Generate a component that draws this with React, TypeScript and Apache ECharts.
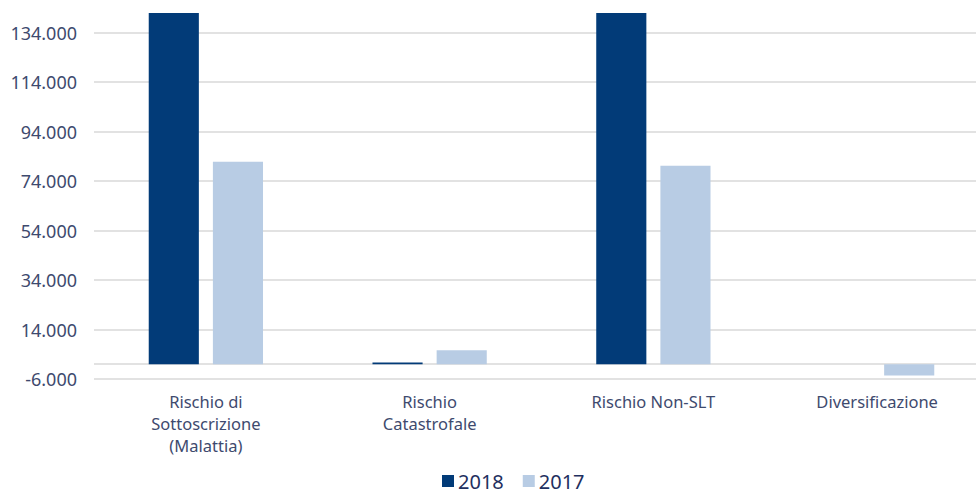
import React, { useEffect, useRef } from "react";
import * as echarts from "echarts";

const categories = [
  "Rischio di\nSottoscrizione\n(Malattia)",
  "Rischio\nCatastrofale",
  "Rischio Non-SLT",
  "Diversificazione",
];
const series2018 = [142000, 700, 142000, 0];
const series2017 = [81800, 5600, 80200, -4600];
const yMin = -6000;
const yMax = 142000;
const yInterval = 20000;

function fmt(v: number): string {
  const neg = v < 0;
  const s = Math.abs(Math.round(v)).toString().replace(/\B(?=(\d{3})+(?!\d))/g, ".");
  return (neg ? "-" : "") + s;
}

export default function App() {
  const ref = useRef<HTMLDivElement>(null);
  useEffect(() => {
    document.body.style.margin = "0";
    if (!ref.current) return;
    const chart = echarts.init(ref.current, null, { renderer: "svg" });
    const font = "Noto Sans";
    chart.setOption({
      animation: false,
      backgroundColor: "#ffffff",
      grid: { left: 94, right: 0, top: 13, height: 366, containLabel: false },
      legend: {
        top: 466,
        left: 437,
        itemWidth: 12,
        itemHeight: 12,
        itemGap: 19,
        icon: "rect",
        textStyle: { fontFamily: font, fontSize: 20, color: "#1f3060", padding: [0, 0, 0, -1] },
        data: ["2018", "2017"],
      },
      xAxis: {
        type: "category",
        data: categories,
        axisLine: { show: false, onZero: false },
        axisTick: { show: false },
        axisLabel: {
          interval: 0,
          margin: 11,
          fontFamily: font,
          fontSize: 16.5,
          lineHeight: 22,
          color: "#3e4a6e",
        },
      },
      yAxis: {
        type: "value",
        min: yMin,
        max: yMax,
        interval: yInterval,
        axisLine: { show: false },
        axisTick: { show: false },
        splitLine: { show: true, showMaxLine: false, lineStyle: { color: "#d9d9d9", width: 1.5 } },
        axisLabel: {
          showMaxLabel: false,
          margin: 17,
          fontFamily: font,
          fontSize: 18,
          color: "#3e4a6e",
          formatter: (v: number) => fmt(v),
        },
      },
      series: [
        {
          name: "2018",
          type: "bar",
          data: series2018,
          barWidth: "22.4%",
          barGap: "28%",
          itemStyle: { color: "#023b78" },
          z: 3,
          markLine: {
            silent: true,
            symbol: "none",
            z: 1,
            label: { show: false },
            lineStyle: { color: "#d9d9d9", width: 1.5, type: "solid" },
            data: [{ yAxis: 0 }],
          },
        },
        {
          name: "2017",
          type: "bar",
          data: series2017,
          barWidth: "22.4%",
          barGap: "28%",
          itemStyle: { color: "#b8cce4" },
          z: 3,
        },
      ],
    });
    return () => chart.dispose();
  }, []);
  return (
    <div style={{ width: 976, height: 493, overflow: "hidden", position: "relative" }}>
      <div ref={ref} style={{ width: 989, height: 493 }} />
    </div>
  );
}
